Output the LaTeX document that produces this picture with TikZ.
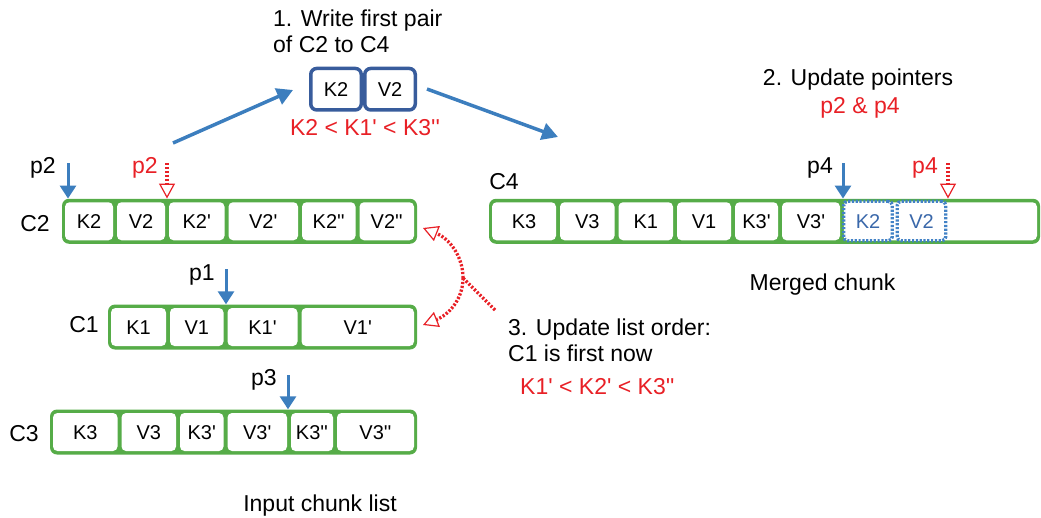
\documentclass[tikz,border=0pt]{standalone}
\usepackage{fontspec}
\setmainfont{Liberation Sans}[Ligatures=TeXOff]
\usetikzlibrary{arrows.meta}

\definecolor{cgreen}{RGB}{86,172,72}
\definecolor{pblue}{RGB}{60,126,190}
\definecolor{lblue}{RGB}{66,130,198}
\definecolor{dblue}{RGB}{56,92,156}
\definecolor{tblue}{RGB}{58,104,170}
\definecolor{cred}{RGB}{232,32,38}

\tikzset{
  lbl/.style={inner sep=0pt, anchor=base, font=\fontsize{23}{27.5}\selectfont},
  chunk/.style={fill=cgreen, rounded corners=7pt, inner sep=0pt, minimum height=45pt},
  kv/.style={fill=white, rounded corners=4.5pt, inner sep=0pt, minimum height=38pt,
    text height=14.5pt, text depth=0pt, font=\fontsize{20}{24}\selectfont},
  newkv/.style={fill=white, draw=lblue, line width=3.4pt, dash pattern=on 2.2pt off 1.6pt,
    rounded corners=4pt, inner sep=0pt, minimum width=48.5pt, minimum height=39.5pt,
    text height=14.5pt, text depth=0pt, font=\fontsize{20}{24}\selectfont, text=tblue},
  pairbox/.style={draw=dblue, fill=white, line width=3.5pt, rounded corners=6pt, inner sep=0pt,
    minimum width=50.5pt, minimum height=41.5pt, text height=14.5pt, text depth=0pt,
    font=\fontsize{20}{24}\selectfont},
  ptr/.style={draw=pblue, line width=3pt, -{Triangle[length=13pt,width=16pt]}},
  newtip/.style={-{Triangle[open,length=15pt,width=16pt,line width=1.2pt]}},
  newptr/.style={draw=cred, line width=3.3pt, dash pattern=on 2.2pt off 1.7pt, newtip},
  flow/.style={draw=pblue, line width=3.5pt, -{Triangle[length=16pt,width=17pt]}},
  reorder/.style={draw=cred, line width=3.3pt, dash pattern=on 2.2pt off 1.7pt},
}

% one key/value cell of a chunk: name, left x, right x, centre y, text
\newcommand\kvcell[5]{\node[kv, minimum width={(#3-#2-4)*1pt}] (#1) at ({(#2+#3)/2},#4) {#5};}

\begin{document}
\begin{tikzpicture}[x=1pt,y=-1pt]
\useasboundingbox (0,0) rectangle (1041,517);

% ---- step 1: copy the first pair of C2 ----
\node[lbl, anchor=base west] (cap1a) at (273,26.5) {1. Write first pair};
\node[lbl, anchor=base west] (cap1b) at (273,52) {of C2 to C4};
\node[pairbox] (topk) at (336,89.2) {K2};
\node[pairbox] (topv) at (390,89.2) {V2};
\node[lbl, text=cred] (ord1) at (365,135) {K2 < K1' < K3''};

\coordinate (w1s) at (173,143);
\coordinate (w1e) at (293,90);
\draw[flow] (w1s) -- (w1e);
\coordinate (w2s) at (427,89);
\coordinate (w2e) at (558,137);
\draw[flow] (w2s) -- (w2e);

% ---- chunk C2 ----
\node[chunk, minimum width=355pt] (c2) at (239.5,221.25) {};
\kvcell{c2a}{63}{115}{221.25}{K2}
\kvcell{c2b}{115}{167}{221.25}{V2}
\kvcell{c2c}{167}{226.5}{221.25}{K2'}
\kvcell{c2d}{226.5}{300}{221.25}{V2'}
\kvcell{c2e}{300}{357.5}{221.25}{K2''}
\kvcell{c2f}{357.5}{416}{221.25}{V2''}
\node[lbl] (c2l) at (35,231.5) {C2};

\coordinate (p2o) at (68,163);
\draw[ptr] (p2o) -- (p2o |- c2.north);
\node[lbl] (p2l) at (43,173) {p2};
\coordinate (p2n) at (167,163);
\draw[newptr] (p2n) -- (p2n |- c2.north);
\node[lbl, text=cred] (p2nl) at (145,173) {p2};

% ---- chunk C1 ----
\node[chunk, minimum width=309pt] (c1) at (262.5,327) {};
\kvcell{c1a}{109}{168}{327}{K1}
\kvcell{c1b}{168}{225.5}{327}{V1}
\kvcell{c1c}{225.5}{299.5}{327}{K1'}
\kvcell{c1d}{299.5}{416}{327}{V1'}
\node[lbl] (c1l) at (84,332) {C1};

\coordinate (p1o) at (226,269);
\draw[ptr] (p1o) -- (p1o |- c1.north);
\node[lbl] (p1l) at (202,280) {p1};

% ---- chunk C3 ----
\node[chunk, minimum width=367pt] (c3) at (233.5,432) {};
\kvcell{c3a}{51}{119.5}{432}{K3}
\kvcell{c3b}{119.5}{178}{432}{V3}
\kvcell{c3c}{178}{225.5}{432}{K3'}
\kvcell{c3d}{225.5}{289}{432}{V3'}
\kvcell{c3e}{289}{335}{432}{K3''}
\kvcell{c3f}{335}{416}{432}{V3''}
\node[lbl] (c3l) at (24,441) {C3};

\coordinate (p3o) at (288,375);
\draw[ptr] (p3o) -- (p3o |- c3.north);
\node[lbl] (p3l) at (264,385) {p3};

\node[lbl] (inlist) at (320,511) {Input chunk list};

% ---- merged chunk C4 ----
\node[chunk, minimum width=551pt] (c4) at (764.5,221.25) {};
\kvcell{c4a}{490}{558}{221.25}{K3}
\kvcell{c4b}{558}{616.5}{221.25}{V3}
\kvcell{c4c}{616.5}{675}{221.25}{K1}
\kvcell{c4d}{675}{733}{221.25}{V1}
\kvcell{c4e}{733}{780}{221.25}{K3'}
\kvcell{c4f}{780}{842}{221.25}{V3'}
\kvcell{c4free}{842}{1039}{221.25}{}
\node[newkv] (c4k2) at (868,221) {K2};
\node[newkv] (c4v2) at (921.5,221) {V2};
\node[lbl] (c4l) at (504,189) {C4};

\coordinate (p4o) at (843,163);
\draw[ptr] (p4o) -- (p4o |- c4.north);
\node[lbl] (p4l) at (820,173) {p4};
\coordinate (p4n) at (948,163);
\draw[newptr] (p4n) -- (p4n |- c4.north);
\node[lbl, text=cred] (p4nl) at (925,173) {p4};

\node[lbl] (c4cap) at (822.5,290) {Merged chunk};

% ---- step 2 ----
\node[lbl] (cap2) at (858,85) {2. Update pointers};
\node[lbl, text=cred] (cap2b) at (860,113) {p2 \& p4};

% ---- step 3: reorder the chunk list ----
\node[lbl, anchor=base west] (cap3a) at (508,335) {3. Update list order:};
\node[lbl, anchor=base west] (cap3b) at (508,361.7) {C1 is first now};
\node[lbl, anchor=base west, text=cred] (ord3) at (520,394) {K1' < K2' < K3''};

\coordinate (r3s) at (495,310);
\coordinate (r3j) at (463,278);
\coordinate (r3u) at (423,228);
\coordinate (r3d) at (423,325);
\draw[reorder] (r3s) -- (r3j);
\draw[reorder, newtip] (r3j) .. controls (463,255) and (448,238) .. (r3u);
\draw[reorder, newtip] (r3j) .. controls (463,300) and (448,315) .. (r3d);
\end{tikzpicture}
\end{document}
